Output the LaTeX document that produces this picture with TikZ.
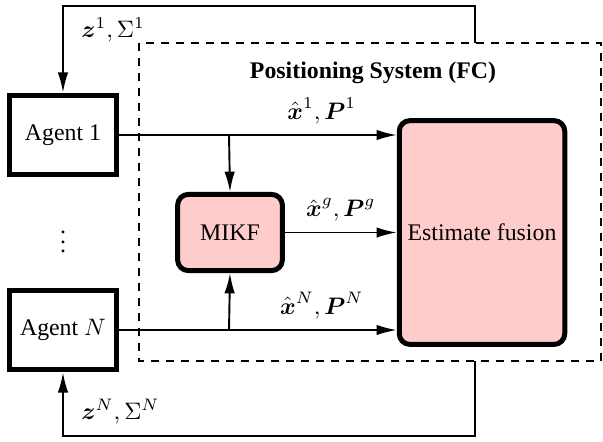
\documentclass[tikz,border=0pt]{standalone}
\usepackage{amsmath}
\usepackage{amssymb}
\usepackage[no-math]{fontspec}
\setmainfont{Liberation Serif}
\usetikzlibrary{arrows.meta}
\usepackage{xcolor}
\definecolor{boxpink}{RGB}{255,204,204}

\begin{document}
\begin{tikzpicture}[x=0.42pt,y=-0.42pt]
\tikzstyle{every path}=[line width=0.8pt]
\tikzstyle{agent}=[draw,line width=2.1pt,minimum width=45pt,minimum height=33.5pt,inner sep=0pt]
\tikzstyle{proc}=[draw,line width=2.1pt,fill=boxpink,rounded corners=4.5pt,inner sep=0pt]
\tikzstyle{sig}=[-{Latex[length=8.5pt,width=4.4pt]}]

\useasboundingbox (0,0) rectangle (603,441);

\draw[dash pattern=on 3.4pt off 2.9pt] (139,43) rectangle (601,361);
\node[font=\bfseries] (title) at (373,73) {Positioning System (FC)};

\node[agent] (a1) at (63,135) {Agent 1};
\node[agent] (aN) at (63,330) {Agent $N$};
\node (dots) at (63,235) {$\vdots$};

\node[proc,minimum width=44pt,minimum height=32pt] (mikf) at (230,232.5) {MIKF};
\node[proc,minimum width=69.5pt,minimum height=94pt] (fus) at (482,232.5) {Estimate fusion};

\coordinate (b1) at (229,135);
\coordinate (bN) at (229,330);
\coordinate (fb1) at (475,43);
\coordinate (fbN) at (475,361);
\coordinate (top1) at (475,6);
\coordinate (botN) at (475,436);

\draw[sig] (a1.east) -- node[pos=0.73,above=1pt] {$\hat{\boldsymbol{x}}^1, \boldsymbol{P}^1$} (a1.east -| fus.west);
\draw[sig] (aN.east) -- node[pos=0.73,above=1pt] {$\hat{\boldsymbol{x}}^N, \boldsymbol{P}^N$} (aN.east -| fus.west);
\draw[sig] (b1) -- (mikf.north);
\draw[sig] (bN) -- (mikf.south);
\draw[sig] (mikf.east) -- node[midway,above=1pt] {$\hat{\boldsymbol{x}}^g, \boldsymbol{P}^g$} (mikf.east -| fus.west);

\draw[sig] (fb1) -- (top1) -| node[pos=0.64,right=4pt] {$\boldsymbol{z}^1, \Sigma^1$} (a1.north);
\draw[sig] (fbN) -- (botN) -| node[pos=0.69,right=4pt] {$\boldsymbol{z}^N, \Sigma^N$} (aN.south);
\end{tikzpicture}
\end{document}
